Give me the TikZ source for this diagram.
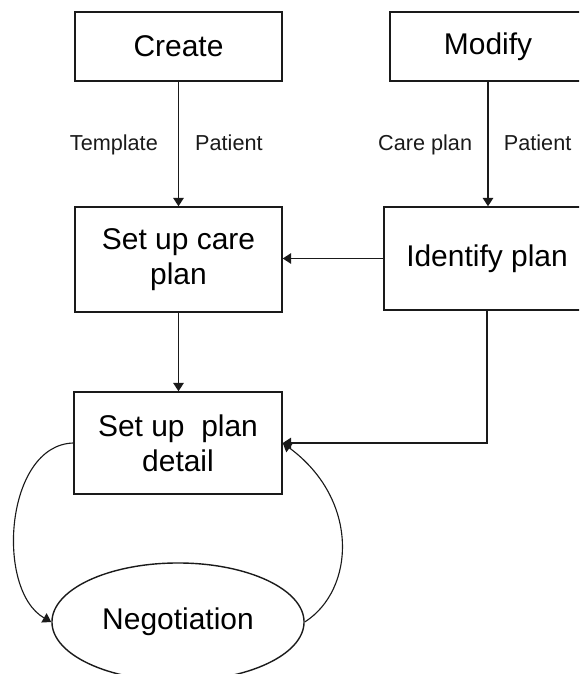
\documentclass[tikz,border=0pt]{standalone}
\usepackage{fontspec}
\setmainfont{Liberation Sans}
\usetikzlibrary{arrows.meta,shapes.geometric}
\definecolor{BoxLine}{HTML}{1A1A1A}

\tikzset{
  box/.style={draw=BoxLine, line width=1pt, rectangle, inner sep=0pt,
    align=center, font=\fontsize{21.3}{24.9}\selectfont},
  flow/.style={draw=BoxLine, line width=1pt,
    -{Triangle[length=6pt,width=7.5pt]}},
  loopflow/.style={flow, line width=0.8pt},
  lbl/.style={inner sep=0pt, text height=0.75em, text depth=0.22em,
    yshift=-2pt, text=BoxLine, font=\fontsize{15.4}{18}\selectfont}
}

\begin{document}
\begin{tikzpicture}[x=0.025cm, y=-0.025cm]
  \useasboundingbox (0,0) rectangle (579,674);
  \clip (0,0) rectangle (579,674);
  % Boxes
  \node[box, minimum width=5.175cm, minimum height=1.725cm] (create) at (178.5,46.5) {Create};
  \node[box, minimum width=4.9cm, minimum height=1.725cm] (modify) at (488,46.5) {Modify};
  \node[box, minimum width=5.175cm, minimum height=2.625cm] (careplan) at (178.5,259.5) {Set up care\\plan};
  \node[box, minimum width=5.15cm, minimum height=2.575cm] (identify) at (487,258.5) {Identify plan};
  \node[box, minimum width=5.2cm, minimum height=2.55cm] (detail) at (178,443) {Set up~ plan\\detail};
  \node[box, ellipse, minimum width=6.3cm, minimum height=2.95cm] (negotiation) at (178,622) {Negotiation};
  % Arrows
  \draw[flow] (create.south) -- (create.south |- careplan.north)
    node[lbl, midway, left=0.5cm] {Template}
    node[lbl, midway, right=0.4cm] {Patient};
  \draw[flow] (modify.south) -- (modify.south |- identify.north)
    node[lbl, midway, left=0.38cm] {Care plan}
    node[lbl, midway, right=0.38cm] {Patient};
  \draw[flow] (identify.west) -- (identify.west -| careplan.east);
  \draw[flow] (careplan.south) -- (careplan.south |- detail.north);
  \draw[flow] (identify.south) |- (detail.east);
  % Negotiation loop
  \draw[loopflow] (detail.west) .. controls (5,445) and (-5,590) .. (negotiation.west);
  \draw[loopflow] (negotiation.east) .. controls (355,590) and (360,500) .. (detail.east);
\end{tikzpicture}
\end{document}
